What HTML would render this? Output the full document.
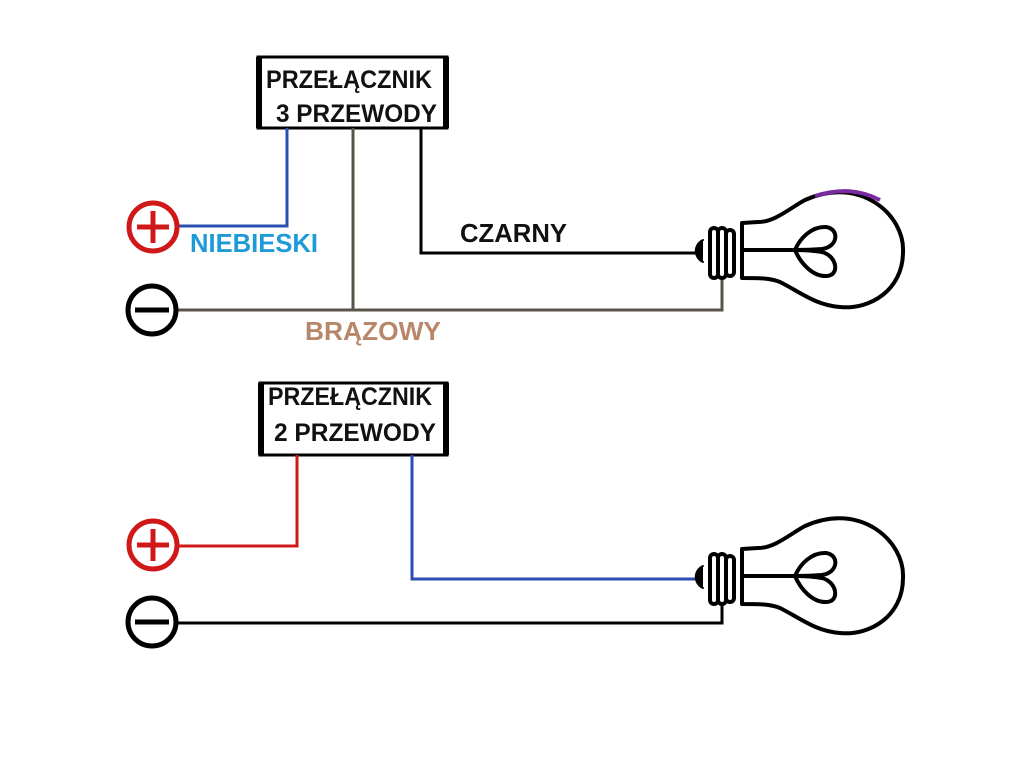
<!DOCTYPE html>
<html><head><meta charset="utf-8"><style>
html,body{margin:0;padding:0;background:#fff;}
svg{display:block;}
text{font-family:"Liberation Sans","DejaVu Sans",sans-serif;font-weight:bold;}
</style></head><body>
<svg width="1024" height="768" viewBox="0 0 1024 768" xmlns="http://www.w3.org/2000/svg">
<rect width="1024" height="768" fill="#fff"/>
<defs>
<g id="bulb" fill="none" stroke="#000" stroke-width="4" stroke-linecap="round" stroke-linejoin="round">
  <path d="M703,240 A12,12 0 0 0 703,262" fill="#000" stroke-width="2"/>
  <rect x="710" y="228" width="8" height="50" rx="4" fill="#fff"/>
  <rect x="718" y="228" width="8" height="50" rx="4" fill="#fff"/>
  <rect x="726" y="230" width="8" height="46" rx="4" fill="#fff"/>
  <path d="M742,278 L742,223 L758,222 C775,222 790,208 805,200 C860,175 905,215 903,252 C903,290 870,310 840,307 C815,305 800,292 780,282 C770,278 760,278 742,278"/>
  <path d="M742,250 L795,250"/>
  <path d="M795,250 C800,238 812,226 826,227 C840,229 838,247 822,249 C810,250 800,250 795,250 Z"/>
  <path d="M795,250 C800,262 812,277 827,276 C840,275 837,256 822,252 C810,250 800,250 795,250 Z"/>
</g>
</defs>

<rect x="258" y="57" width="189" height="71" fill="#fff" stroke="#000" stroke-width="3"/>
<rect x="256" y="57" width="6" height="71" fill="#000"/>
<rect x="443" y="57" width="6" height="71" fill="#000"/>
<text x="266" y="88" font-size="25" fill="#111" textLength="166" lengthAdjust="spacingAndGlyphs">PRZEŁĄCZNIK</text>
<text x="276" y="122" font-size="25" fill="#111" textLength="161" lengthAdjust="spacingAndGlyphs">3 PRZEWODY</text>

<polyline points="287,128 287,226 178,226" fill="none" stroke="#2a4fb0" stroke-width="3"/>
<polyline points="353,128 353,310 178,310" fill="none" stroke="#5a5448" stroke-width="3"/>
<polyline points="353,310 722,310 722,278" fill="none" stroke="#5a5448" stroke-width="3"/>
<polyline points="421,128 421,253 703,253" fill="none" stroke="#000" stroke-width="3"/>

<circle cx="153" cy="227" r="24" fill="none" stroke="#d01818" stroke-width="5"/>
<line x1="137" y1="227" x2="169" y2="227" stroke="#d01818" stroke-width="5"/>
<line x1="153" y1="211" x2="153" y2="243" stroke="#d01818" stroke-width="5"/>
<circle cx="152" cy="310" r="24" fill="none" stroke="#000" stroke-width="5"/>
<line x1="135" y1="310" x2="169" y2="310" stroke="#000" stroke-width="5"/>

<text x="190" y="252" font-size="26" fill="#1e9ad8" textLength="128" lengthAdjust="spacingAndGlyphs">NIEBIESKI</text>
<text x="460" y="242" font-size="26" fill="#111" textLength="107" lengthAdjust="spacingAndGlyphs">CZARNY</text>
<text x="305" y="340" font-size="26" fill="#b8876a" textLength="136" lengthAdjust="spacingAndGlyphs">BRĄZOWY</text>

<use href="#bulb"/>
<path d="M815,196 C840,188 860,190 880,200" fill="none" stroke="#7a2aa0" stroke-width="4"/>

<rect x="260" y="383" width="187" height="72" fill="#fff" stroke="#000" stroke-width="3"/>
<rect x="258" y="383" width="6" height="72" fill="#000"/>
<rect x="443" y="383" width="6" height="72" fill="#000"/>
<text x="268" y="405" font-size="25" fill="#111" textLength="164" lengthAdjust="spacingAndGlyphs">PRZEŁĄCZNIK</text>
<text x="274" y="441" font-size="25" fill="#111" textLength="162" lengthAdjust="spacingAndGlyphs">2 PRZEWODY</text>

<polyline points="297,455 297,546 178,546" fill="none" stroke="#d01818" stroke-width="3"/>
<polyline points="412,455 412,579 703,579" fill="none" stroke="#2a4fb0" stroke-width="3"/>
<polyline points="178,623 722,623 722,604" fill="none" stroke="#000" stroke-width="3"/>

<circle cx="153" cy="545" r="24" fill="none" stroke="#d01818" stroke-width="5"/>
<line x1="137" y1="545" x2="169" y2="545" stroke="#d01818" stroke-width="5"/>
<line x1="153" y1="529" x2="153" y2="561" stroke="#d01818" stroke-width="5"/>
<circle cx="152" cy="622" r="24" fill="none" stroke="#000" stroke-width="5"/>
<line x1="135" y1="622" x2="169" y2="622" stroke="#000" stroke-width="5"/>

<use href="#bulb" transform="translate(0,326)"/>
</svg>
</body></html>
